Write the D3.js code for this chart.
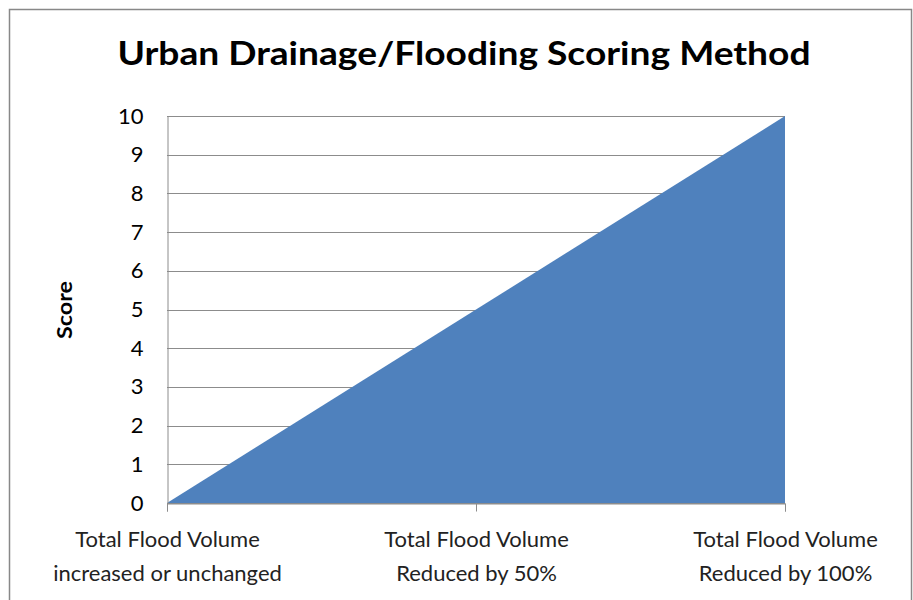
<!DOCTYPE html>
<html>
<head>
<meta charset="utf-8">
<script src="https://cdn.jsdelivr.net/npm/d3@7/dist/d3.min.js"></script>
<style>
  html, body { margin: 0; padding: 0; background: #fff; }
  svg { display: block; }
</style>
</head>
<body>
<svg id="chart" width="913" height="600"></svg>
<script>
// Scoring categories along the x axis (two-line labels)
const categories = [
  ["Total Flood Volume", "increased or unchanged"],
  ["Total Flood Volume", "Reduced by 50%"],
  ["Total Flood Volume", "Reduced by 100%"]
];
const scores = [0, 5, 10];
const yTicks = [0, 1, 2, 3, 4, 5, 6, 7, 8, 9, 10];

const titleText = "Urban Drainage/Flooding Scoring Method";
const yLabel = "Score";

const svg = d3.select("#chart");
const font = "Lato, 'Open Sans', sans-serif";

// Outer chart frame
svg.append("rect")
  .attr("x", 9.5).attr("y", 9.5)
  .attr("width", 902).attr("height", 600)
  .attr("fill", "#fff")
  .attr("stroke", "#888").attr("stroke-width", 1.5);

const plot = { left: 167, right: 785, top: 116, bottom: 503 };

const x = d3.scalePoint()
  .domain(d3.range(categories.length))
  .range([plot.left, plot.right]);

const y = d3.scaleLinear()
  .domain([0, 10])
  .range([plot.bottom, plot.top]);

// Horizontal gridlines
svg.append("g")
  .selectAll("line")
  .data(yTicks)
  .join("line")
  .attr("x1", plot.left).attr("x2", plot.right)
  .attr("y1", d => Math.round(y(d)) + 0.5)
  .attr("y2", d => Math.round(y(d)) + 0.5)
  .attr("stroke", "#8c8c8c").attr("stroke-width", 1);

// Filled area
const area = d3.area()
  .x((d, i) => x(i))
  .y0(y(0))
  .y1(d => y(d));

svg.append("path")
  .datum(scores)
  .attr("d", area)
  .attr("fill", "#4f81bd");

// Y axis
const yAxis = svg.append("g")
  .attr("transform", `translate(${plot.left + 0.5},0)`)
  .call(d3.axisLeft(y).tickValues(yTicks).tickSize(0).tickPadding(24));
yAxis.select(".domain").attr("stroke", "#8c8c8c");
yAxis.selectAll("text")
  .attr("font-family", font)
  .attr("font-size", 22)
  .attr("fill", "#000");

// X axis
const xAxis = svg.append("g")
  .attr("transform", `translate(0,${plot.bottom + 0.5})`)
  .call(d3.axisBottom(x).tickSize(8).tickFormat(""));
xAxis.select(".domain").attr("stroke", "#8c8c8c");
xAxis.selectAll(".tick line").attr("stroke", "#8c8c8c");

xAxis.selectAll(".tick")
  .append("text")
  .attr("font-family", font)
  .attr("font-size", 22)
  .attr("fill", "#222")
  .attr("text-anchor", "middle")
  .selectAll("tspan")
  .data(i => categories[i])
  .join("tspan")
  .attr("x", 0)
  .attr("y", (d, j) => 43 + j * 34)
  .text(d => d);

// Title
svg.append("text")
  .attr("x", 464).attr("y", 65)
  .attr("text-anchor", "middle")
  .attr("font-family", font)
  .attr("font-weight", "bold")
  .attr("font-size", 32)
  .attr("textLength", 693)
  .attr("lengthAdjust", "spacingAndGlyphs")
  .attr("fill", "#000")
  .text(titleText);

// Y axis title
svg.append("text")
  .attr("transform", `translate(72,310) rotate(-90)`)
  .attr("text-anchor", "middle")
  .attr("font-family", font)
  .attr("font-weight", "bold")
  .attr("font-size", 21)
  .attr("textLength", 58)
  .attr("lengthAdjust", "spacingAndGlyphs")
  .attr("fill", "#000")
  .text(yLabel);
</script>
</body>
</html>
